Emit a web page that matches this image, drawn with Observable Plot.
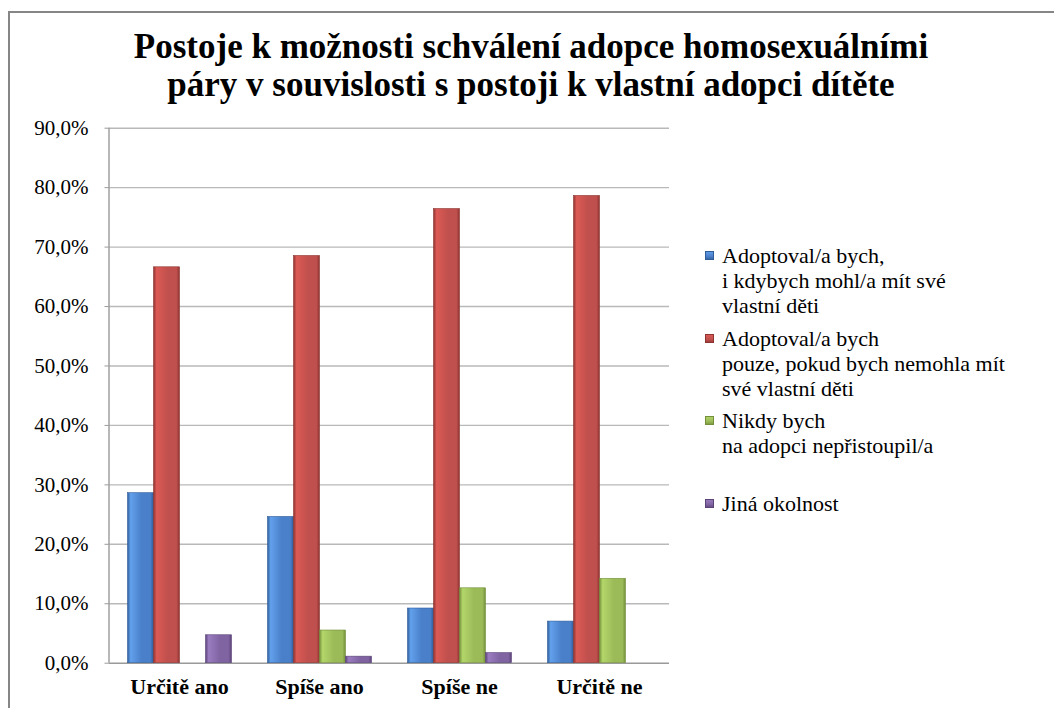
<!DOCTYPE html>
<html>
<head>
<meta charset="utf-8">
<script src="https://cdn.jsdelivr.net/npm/d3@7"></script>
<script src="https://cdn.jsdelivr.net/npm/@observablehq/plot@0.6"></script>
<style>
  html, body { margin: 0; padding: 0; background: #fff; }
  #root { position: relative; width: 1054px; height: 708px; overflow: hidden; background: #fff; font-family: 'Liberation Serif', serif; }
  #frame { position: absolute; left: 8px; top: 11px; width: 1200px; height: 900px; border-left: 2px solid #868686; border-top: 2px solid #868686; }
  #title { position: absolute; left: 0; top: 28px; width: 1062px; text-align: center; font-weight: bold; font-size: 35px; line-height: 38px; color: #000; }
  .plot { position: absolute; left: 0; top: 110px; }
  .legend-entry { position: absolute; left: 722px; font-size: 22px; line-height: 25px; color: #000; }
  .legend-entry div { white-space: nowrap; }
  .legend-swatch { position: absolute; left: 705px; width: 9px; height: 9px; }
</style>
</head>
<body>
<div id="root">
  <div id="frame"></div>
  <div id="title"></div>
  <div id="base" class="plot"></div>
  <div id="bars" class="plot"></div>
  <div id="legend"></div>
</div>
<script>
// ---- data ----
const titleLines = ["Postoje k možnosti schválení adopce homosexuálními", "páry v souvislosti s postoji k vlastní adopci dítěte"];
const categories = ["Určitě ano", "Spíše ano", "Spíše ne", "Určitě ne"];
const legendLines = [
  ["Adoptoval/a bych,", "i kdybych mohl/a mít své", "vlastní děti"],
  ["Adoptoval/a bych", "pouze, pokud bych nemohla mít", "své vlastní děti"],
  ["Nikdy bych", "na adopci nepřistoupil/a"],
  ["Jiná okolnost"]
];
const seriesNames = legendLines.map(l => l.join(" "));
const adoptEvenWithOwn = [28.6, 24.6, 9.2, 7.0];
const adoptOnlyIfNoOwn = [66.6, 68.5, 76.4, 78.6];
const neverAdopt = [0, 5.5, 12.6, 14.2];
const otherCircumstance = [4.7, 1.1, 1.7, 0];
const yTicks = [0, 10, 20, 30, 40, 50, 60, 70, 80, 90];
const colorsMid = ["#4a7fc9", "#c0504d", "#9bbb59", "#8064a2"];
const colorsLight = ["#62a0ec", "#dc5a55", "#b3d66a", "#9a7cc0"];
const colorsDark = ["#2f5d99", "#8e3431", "#74903b", "#5c4479"];

const seriesValues = [adoptEvenWithOwn, adoptOnlyIfNoOwn, neverAdopt, otherCircumstance];
const data = [];
categories.forEach((c, ci) => seriesValues.forEach((vals, si) => {
  data.push({cat: c, series: seriesNames[si], si, value: vals[ci]});
}));

// ---- layout ----
const FONT = "'Liberation Serif', serif";
const W = 680, H = 598, ML = 108.5, MR = 11, MT = 17.7, MB = 45.3;
const fmt = d => d.toFixed(1).replace(".", ",") + "%";

// title
const titleEl = document.getElementById("title");
titleLines.forEach(t => {
  const s = document.createElement("div");
  s.textContent = t;
  titleEl.appendChild(s);
});

// base plot: grid + y axis
const base = Plot.plot({
  width: W, height: H, marginLeft: ML, marginRight: MR, marginTop: MT, marginBottom: MB,
  style: {fontFamily: FONT, background: "transparent", color: "#000", overflow: "visible"},
  x: {domain: [0, 1], axis: null},
  y: {domain: [0, 90], axis: null},
  marks: [
    Plot.ruleY(yTicks.filter(t => t > 0), {stroke: "#b9b9b9", strokeWidth: 1.4}),
    Plot.ruleY([0], {stroke: "#9a9a9a", strokeWidth: 1.4}),
    Plot.ruleX([0], {stroke: "#9a9a9a", strokeWidth: 1.4}),
    Plot.axisY(yTicks, {tickSize: 4, tickPadding: 16.5, tickFormat: fmt, fontSize: 21, stroke: "#9a9a9a", fill: "#000"})
  ]
});
document.getElementById("base").appendChild(base);

// bars plot
const bars = Plot.plot({
  width: W, height: H, marginLeft: ML, marginRight: MR, marginTop: MT, marginBottom: MB,
  style: {fontFamily: FONT, background: "transparent", color: "#000", overflow: "visible"},
  fx: {domain: categories, paddingInner: 0.2585, paddingOuter: 0.129, label: null},
  x: {domain: seriesNames, axis: null, paddingInner: 0, paddingOuter: 0},
  y: {domain: [0, 90], axis: null},
  color: {type: "identity"},
  marks: [
    Plot.barY(data.filter(d => d.value > 0), {fx: "cat", x: "series", y: "value", fill: d => `url(#bargrad${d.si})`, stroke: d => colorsDark[d.si], strokeWidth: 0.6}),
    Plot.axisFx({anchor: "bottom", tickSize: 0, tickPadding: 15, fontSize: 22, fontWeight: "bold", label: null, fill: "#000"})
  ]
});
document.getElementById("bars").appendChild(bars);

// gradients
const defs = d3.select(bars).insert("defs", ":first-child");
colorsMid.forEach((c, i) => {
  const g = defs.append("linearGradient").attr("id", `bargrad${i}`).attr("x1", 0).attr("x2", 1).attr("y1", 0).attr("y2", 0);
  g.append("stop").attr("offset", "0%").attr("stop-color", colorsDark[i]);
  g.append("stop").attr("offset", "12%").attr("stop-color", colorsLight[i]);
  g.append("stop").attr("offset", "55%").attr("stop-color", c);
  g.append("stop").attr("offset", "88%").attr("stop-color", c);
  g.append("stop").attr("offset", "100%").attr("stop-color", colorsDark[i]);
});

// legend
const legend = document.getElementById("legend");
const entryCenters = [255, 338, 420, 503];
const lineH = 25;
legendLines.forEach((lines, i) => {
  const sw = document.createElement("div");
  sw.className = "legend-swatch";
  sw.style.top = (entryCenters[i] - 4.5) + "px";
  sw.style.background = `linear-gradient(to bottom, ${colorsLight[i]}, ${colorsMid[i]} 60%, ${colorsDark[i]})`;
  sw.style.boxShadow = `inset 0 0 0 1px ${colorsDark[i]}`;
  legend.appendChild(sw);
  const e = document.createElement("div");
  e.className = "legend-entry";
  e.style.top = (entryCenters[i] - lineH / 2) + "px";
  lines.forEach(l => {
    const d = document.createElement("div");
    d.textContent = l;
    e.appendChild(d);
  });
  legend.appendChild(e);
});
</script>
</body>
</html>
